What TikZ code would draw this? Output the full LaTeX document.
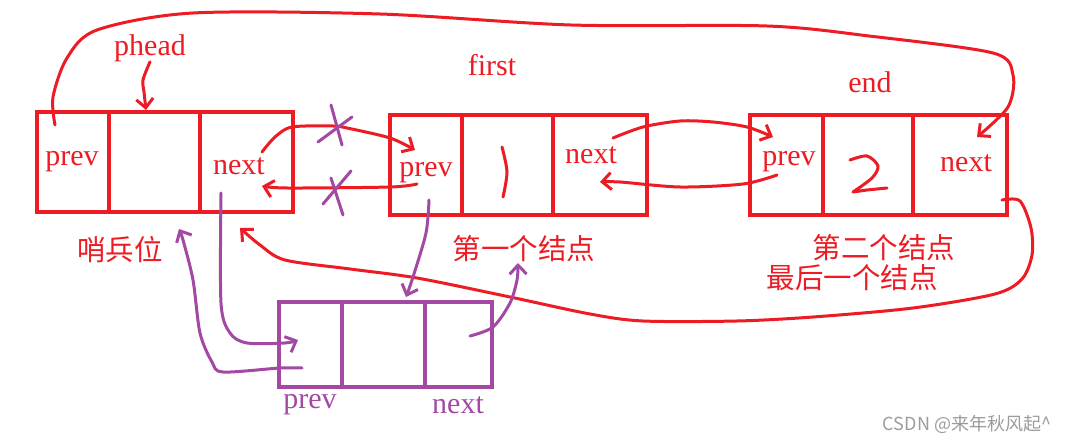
\documentclass[tikz,border=0pt]{standalone}
\usepackage{fontspec}
\setmainfont{Liberation Serif}
\newfontfamily\cjk{Noto Sans CJK SC}
\usetikzlibrary{arrows.meta}
\definecolor{pred}{HTML}{ED1C24}
\definecolor{ppur}{HTML}{A349A4}
\definecolor{wgray}{HTML}{9C9C9C}
\begin{document}
\begin{tikzpicture}[x=1pt,y=-1pt,
  cell/.style={draw=pred, line width=4.5pt, minimum height=100pt, inner sep=0pt},
  pcell/.style={draw=ppur, line width=4pt, minimum height=85pt, inner sep=0pt},
  lab/.style={text=pred, font=\fontsize{30}{32}\selectfont, inner sep=0pt},
  plab/.style={text=ppur, font=\fontsize{30}{32}\selectfont, inner sep=0pt},
  zh/.style={text=pred, font=\cjk\fontsize{28.5}{30}\selectfont, inner sep=0pt},
  pen/.style={draw=pred, line width=3pt, line cap=round, line join=round},
  ppen/.style={draw=ppur, line width=3pt, line cap=round, line join=round},
  tip/.style={-{Straight Barb[length=9pt,width=17pt]}},
]
\fill[white] (0,0) rectangle (1073,443);
\useasboundingbox (0,0) rectangle (1073,443);

% sentinel node
\node[cell, minimum width=72pt] (s0) at (73,162) {};
\node[cell, minimum width=91pt] (s1) at (154.5,162) {};
\node[cell, minimum width=93pt] (s2) at (246.5,162) {};
% first node
\node[cell, minimum width=72pt] (f0) at (426,165) {};
\node[cell, minimum width=91pt] (f1) at (507.5,165) {};
\node[cell, minimum width=94pt] (f2) at (600,165) {};
% second node
\node[cell, minimum width=73pt] (e0) at (786.5,165) {};
\node[cell, minimum width=90pt] (e1) at (868,165) {};
\node[cell, minimum width=94pt] (e2) at (960,165) {};
% new purple node
\node[pcell, minimum width=63pt] (n0) at (310.5,344.5) {};
\node[pcell, minimum width=83pt] (n1) at (383.5,344.5) {};
\node[pcell, minimum width=67pt] (n2) at (458.5,344.5) {};

% labels
\node[lab] (tphead) at (150,48) {phead};
\node[lab] (tfirst) at (492,65) {first};
\node[lab] (tend) at (870,82) {end};
\node[lab] (ts0) at (72,162) {prev};
\node[lab] (ts2) at (239,166) {next};
\node[lab] (tf0) at (426,173) {prev};
\node[lab] (tf2) at (591,155) {next};
\node[lab] (te0) at (789,162) {prev};
\node[lab] (te2) at (966,163) {next};
\node[plab] (tn0) at (310,405) {prev};
\node[plab] (tn2) at (458,405) {next};
\node[zh] (zs) at (120,250) {哨兵位};
\node[zh] (zf) at (524,249) {第一个结点};
\node[zh] (ze) at (884,248) {第二个结点};
\node[zh] (zl) at (852,278) {最后一个结点};
\node[text=wgray, font=\cjk\fontsize{18}{20}\selectfont, inner sep=0pt] (wm) at (967,424) {CSDN @来年秋风起\^{}};

% handwritten digits
\draw[pen] plot[smooth] coordinates {(502,147) (507,172) (503,197)};
\draw[pen] plot[smooth] coordinates {(850,160) (867,156) (878,166) (872,178) (853,192)} -- (867,190) -- (887,188);

% connectors (red)
\coordinate (c1s) at (55,125);
\coordinate (c1e) at (977,137);
\draw[pen,tip] plot[smooth] coordinates {(c1s) (53,97) (67,58) (97,30) (193,13) (380,14) (571,25) (767,26) (869,36) (993,53) (1013,75) (1008,107) (c1e)};

\coordinate (c2s) at (262,152);
\coordinate (c2e) at (415,150);
\draw[pen,tip] plot[smooth] coordinates {(c2s) (275,137) (292,127) (333,126) (347,128) (390,138) (c2e)};

\coordinate (c3s) at (417,184);
\coordinate (c3e) at (262,186);
\draw[pen,tip] plot[smooth] coordinates {(c3s) (390,187) (287,188) (c3e)};

\coordinate (c4s) at (613,138);
\coordinate (c4e) at (773,137);
\draw[pen,tip] plot[smooth] coordinates {(c4s) (643,127) (680,121) (713,122) (747,127) (c4e)};

\coordinate (c5s) at (777,175);
\coordinate (c5e) at (600,182);
\draw[pen,tip] plot[smooth] coordinates {(c5s) (743,184) (680,187) (620,182) (c5e)};

\coordinate (c6s) at (1002,200);
\coordinate (c6e) at (240,228);
\draw[pen,tip] plot[smooth] coordinates {(c6s) (1020,201) (1031,228) (1032,255) (1022,279) (995,294) (913,308) (813,317) (737,321) (643,321) (590,314) (510,297) (417,278) (350,269) (285,260) (260,245) (c6e)};

\draw[pen,tip] plot[smooth] coordinates {(tphead.south) (143,80) (144,92) (146,110)};

% connectors (purple)
\coordinate (p1s) at (221,193);
\coordinate (p1e) at (298,340);
\draw[ppen,tip] plot[smooth] coordinates {(p1s) (221,303) (230,333) (247,343) (285,343) (p1e)};

\coordinate (p2s) at (302,368);
\coordinate (p2e) at (179,229);
\draw[ppen,tip] plot[smooth] coordinates {(p2s) (280,368) (223,372) (212,362) (200,333) (193,280) (183,240) (p2e)};

\coordinate (p3s) at (429,200);
\coordinate (p3e) at (406,297);
\draw[ppen,tip] plot[smooth] coordinates {(p3s) (426,233) (413,277) (p3e)};

\coordinate (p4s) at (470,336);
\coordinate (p4e) at (518,263);
\draw[ppen,tip] plot[smooth] coordinates {(p4s) (493,327) (510,303) (517,280) (p4e)};

% crossing-out marks
\draw[ppen] (331,105) -- (342,145);
\draw[ppen] (318,142) -- (352,117);
\draw[ppen] (331,178) -- (343,215);
\draw[ppen] (323,204) -- (351,171);
\end{tikzpicture}
\end{document}
